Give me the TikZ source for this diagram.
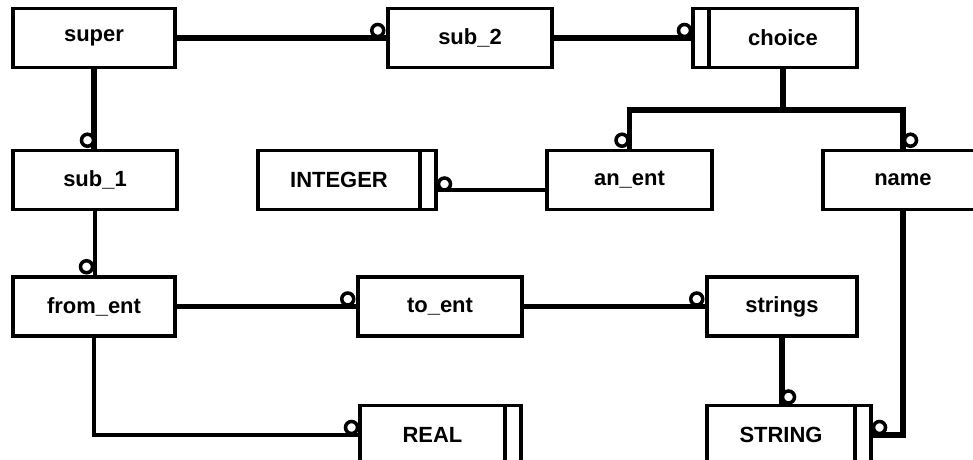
\documentclass[tikz,border=0pt]{standalone}
\usepackage{fontspec}
\setmainfont{Liberation Sans}
\usepackage{tikz}
\usetikzlibrary{calc,positioning}
\tikzset{
	entbox/.style={draw, line width=2pt, minimum height=1.18cm, inner sep=0pt, font=\fontsize{12.5}{14}\selectfont\bfseries},
	sidebar/.style={draw, line width=2pt, minimum width=0.32cm, minimum height=1.18cm, inner sep=0pt, outer sep=0pt},
	fatline/.style={line width=3.4pt},
	slimline/.style={line width=2.3pt},
	ringstyle/.style={line width=2pt, fill=white}
}
\def\ringat(#1)(#2){\draw[ringstyle] (#1) ++(#2) circle (0.12);}

\begin{document}
\begin{tikzpicture}
			%%%%% START %%%%%
			
			\useasboundingbox (0, 0) rectangle (19.46, 9.18);
			
			\node[entbox, minimum width=3.24cm] (super) at (1.88, 8.42) {super};
			\node[entbox, minimum width=3.28cm] (sub2) at (9.40, 8.42) {sub\_2};
			\node[entbox, minimum width=2.96cm, outer sep=0pt] (choice) at (15.66, 8.42) {choice};
			\node[sidebar, left=0pt of choice] (choicebar) {};
			
			\node[entbox, minimum width=3.28cm] (sub1) at (1.90, 5.58) {sub\_1};
			\node[entbox, minimum width=3.24cm, outer sep=0pt] (integer) at (6.78, 5.58) {INTEGER};
			\node[sidebar, right=0pt of integer] (integerbar) {};
			\node[entbox, minimum width=3.30cm] (anent) at (12.59, 5.58) {an\_ent};
			\node[entbox, minimum width=3.20cm] (name) at (18.06, 5.58) {name};
			
			\node[entbox, minimum width=3.24cm] (froment) at (1.88, 3.05) {from\_ent};
			\node[entbox, minimum width=3.28cm] (toent) at (8.80, 3.05) {to\_ent};
			\node[entbox, minimum width=3.00cm] (strings) at (15.64, 3.05) {strings};
			
			\node[entbox, minimum width=2.90cm, outer sep=0pt] (real) at (8.65, 0.48) {REAL};
			\node[sidebar, right=0pt of real] (realbar) {};
			\node[entbox, minimum width=2.96cm, outer sep=0pt] (string) at (15.62, 0.48) {STRING};
			\node[sidebar, right=0pt of string] (stringbar) {};
			
			\draw[fatline] (super.east) -- (sub2.west);
			\draw[fatline] (super.south) -- (super.south |- sub1.north);
			\draw[fatline] (sub2.east) -- (choicebar.west);
			
			\coordinate (fork) at ([yshift=-0.85cm]choice.south);
			\draw[fatline] (choice.south) -- (fork);
			\draw[fatline] (anent.north) |- (fork) -| (name.north);
			
			\draw[slimline] ([yshift=-0.2cm]anent.west) -- ([yshift=-0.2cm]integerbar.east);
			\draw[slimline] (sub1.south) -- (sub1.south |- froment.north);
			\draw[slimline] (froment.east) -- (toent.west);
			\draw[fatline] (toent.east) -- (strings.west);
			\draw[slimline] (froment.south) |- (real.west);
			\draw[fatline] (strings.south) -- (strings.south |- string.north);
			\draw[fatline] (name.south) |- (stringbar.east);
			
			\ringat(sub2.west)(-0.17, 0.15)
			\ringat(sub1.north)(-0.15, 0.17)
			\ringat(choicebar.west)(-0.17, 0.15)
			\ringat(anent.north)(-0.15, 0.17)
			\ringat(name.north)(0.15, 0.17)
			\ringat(integerbar.east)(0.17, -0.08)
			\ringat(froment.north)(-0.15, 0.17)
			\ringat(toent.west)(-0.17, 0.15)
			\ringat(strings.west)(-0.17, 0.15)
			\ringat(real.west)(-0.17, 0.15)
			\ringat(string.north)(0.15, 0.17)
			\ringat(stringbar.east)(0.17, 0.15)
			
			%%%%% END %%%%%
		\end{tikzpicture}
\end{document}
